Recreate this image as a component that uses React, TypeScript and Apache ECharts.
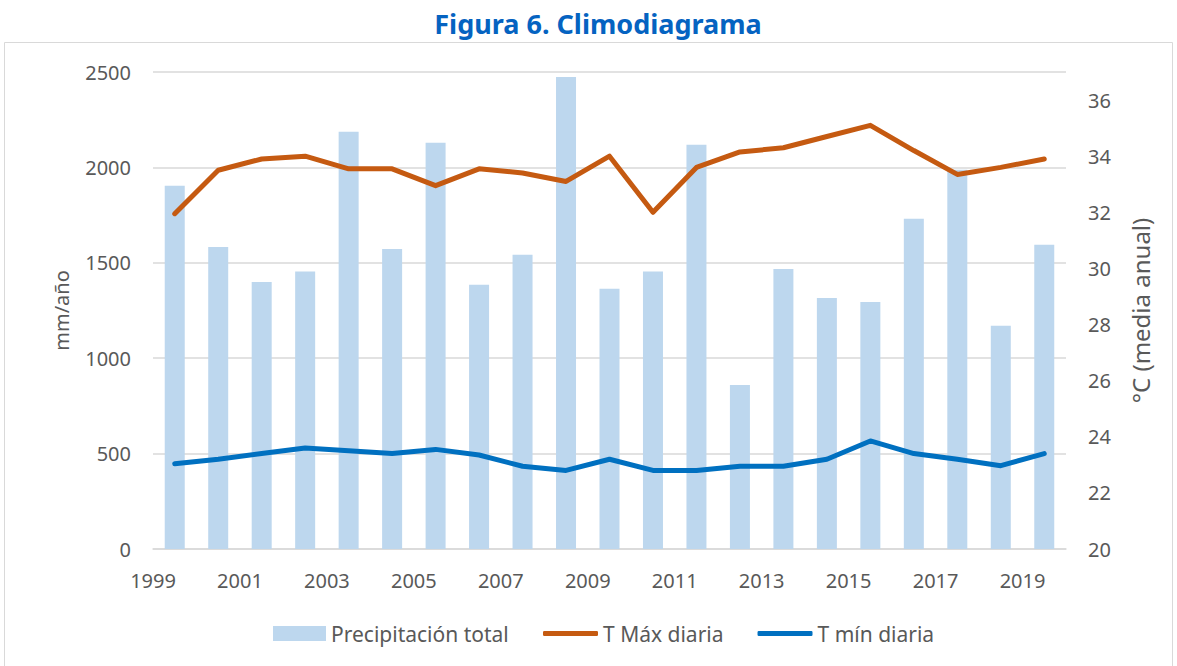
import React, { useEffect, useRef } from "react";
import * as echarts from "echarts";

const years = [1999, 2000, 2001, 2002, 2003, 2004, 2005, 2006, 2007, 2008, 2009, 2010, 2011, 2012, 2013, 2014, 2015, 2016, 2017, 2018, 2019];
const precipitacion = [1904, 1583, 1399, 1455, 2187, 1572, 2129, 1385, 1542, 2474, 1364, 1455, 2119, 859, 1467, 1315, 1294, 1731, 1988, 1170, 1595];
const tMax = [31.95, 33.5, 33.9, 34.0, 33.55, 33.55, 32.95, 33.55, 33.4, 33.1, 34.0, 32.0, 33.6, 34.15, 34.3, 34.7, 35.1, 34.2, 33.35, 33.6, 33.9];
const tMin = [23.04, 23.2, 23.4, 23.6, 23.5, 23.4, 23.55, 23.35, 22.95, 22.8, 23.2, 22.8, 22.8, 22.95, 22.95, 23.2, 23.85, 23.4, 23.2, 22.97, 23.4];

const titleText = "Figura 6. Climodiagrama";
const seriesNames = ["Precipitación total", "T Máx diaria", "T mín diaria"];
const leftAxisName = "mm/año";
const rightAxisName = "°C (media anual)";

const FONT = "'Noto Sans', 'Open Sans', sans-serif";
const TEXT = "#595959";
const ORANGE = "#C55A11";
const BLUE = "#0070C0";
const BAR = "#BDD7EE";

export default function App() {
  const ref = useRef<HTMLDivElement>(null);
  useEffect(() => {
    if (!ref.current) return;
    const chart = echarts.init(ref.current, null, { renderer: "svg" });
    // bars/points sit in the middle of each year span
    const mid = (y: number) => y + 0.5;
    const legendText = { color: TEXT, fontSize: 21, fontFamily: FONT };
    chart.setOption({
      animation: false,
      backgroundColor: "#ffffff",
      textStyle: { fontFamily: FONT },
      title: {
        text: titleText,
        left: 593,
        textAlign: "center",
        top: 5,
        textStyle: { color: "#0563C1", fontSize: 27, fontWeight: "bold", fontFamily: FONT },
      },
      graphic: [
        {
          type: "rect",
          shape: { x: 4.5, y: 42.5, width: 1168, height: 640 },
          style: { fill: "none", stroke: "#D9D9D9", lineWidth: 1 },
          silent: true,
          z: -10,
        },
      ],
      legend: [
        {
          left: 273,
          top: 623,
          padding: 0,
          itemWidth: 53,
          itemHeight: 15,
          textStyle: legendText,
          data: [{ name: seriesNames[0], icon: "rect" }],
        },
        {
          left: 543,
          top: 623,
          padding: 0,
          itemGap: 34,
          itemWidth: 55,
          itemHeight: 5,
          textStyle: legendText,
          data: [
            { name: seriesNames[1], icon: "roundRect" },
            { name: seriesNames[2], icon: "roundRect" },
          ],
        },
      ],
      grid: { left: 153, right: 111, top: 72, bottom: 117 },
      xAxis: {
        type: "value",
        min: 1999,
        max: 2020,
        interval: 2,
        axisLine: { show: true, lineStyle: { color: "#D9D9D9", width: 1.5 } },
        axisTick: { show: false },
        splitLine: { show: false },
        axisLabel: {
          color: TEXT,
          fontSize: 20,
          margin: 21,
          showMaxLabel: false,
          formatter: (v: number) => String(v),
        },
      },
      yAxis: [
        {
          type: "value",
          min: 0,
          max: 2500,
          interval: 500,
          name: leftAxisName,
          nameLocation: "middle",
          nameGap: 82,
          nameTextStyle: { color: TEXT, fontSize: 20, fontFamily: FONT },
          axisLine: { show: false },
          axisTick: { show: false },
          axisLabel: { color: TEXT, fontSize: 20, margin: 22, formatter: (v: number) => String(v) },
          splitLine: { lineStyle: { color: "#D9D9D9", width: 1.5 } },
        },
        {
          type: "value",
          min: 20,
          max: 37,
          interval: 2,
          name: rightAxisName,
          nameLocation: "middle",
          nameGap: 62,
          nameTextStyle: { color: TEXT, fontSize: 24, fontFamily: FONT },
          axisLine: { show: false },
          axisTick: { show: false },
          axisLabel: { color: TEXT, fontSize: 20, margin: 22, showMaxLabel: false },
          splitLine: { show: false },
        },
      ],
      series: [
        {
          name: seriesNames[0],
          type: "bar",
          yAxisIndex: 0,
          barWidth: 20,
          itemStyle: { color: BAR },
          data: years.map((y, i) => [mid(y), precipitacion[i]]),
          z: 1,
        },
        {
          name: seriesNames[1],
          type: "line",
          yAxisIndex: 1,
          symbol: "none",
          lineStyle: { color: ORANGE, width: 5, cap: "round", join: "round" },
          itemStyle: { color: ORANGE },
          data: years.map((y, i) => [mid(y), tMax[i]]),
          z: 3,
        },
        {
          name: seriesNames[2],
          type: "line",
          yAxisIndex: 1,
          symbol: "none",
          lineStyle: { color: BLUE, width: 5, cap: "round", join: "round" },
          itemStyle: { color: BLUE },
          data: years.map((y, i) => [mid(y), tMin[i]]),
          z: 3,
        },
      ],
    });
    return () => chart.dispose();
  }, []);
  return (
    <div
      ref={ref}
      style={{ position: "fixed", left: 0, top: 0, width: 1177, height: 666, background: "#fff" }}
    />
  );
}
